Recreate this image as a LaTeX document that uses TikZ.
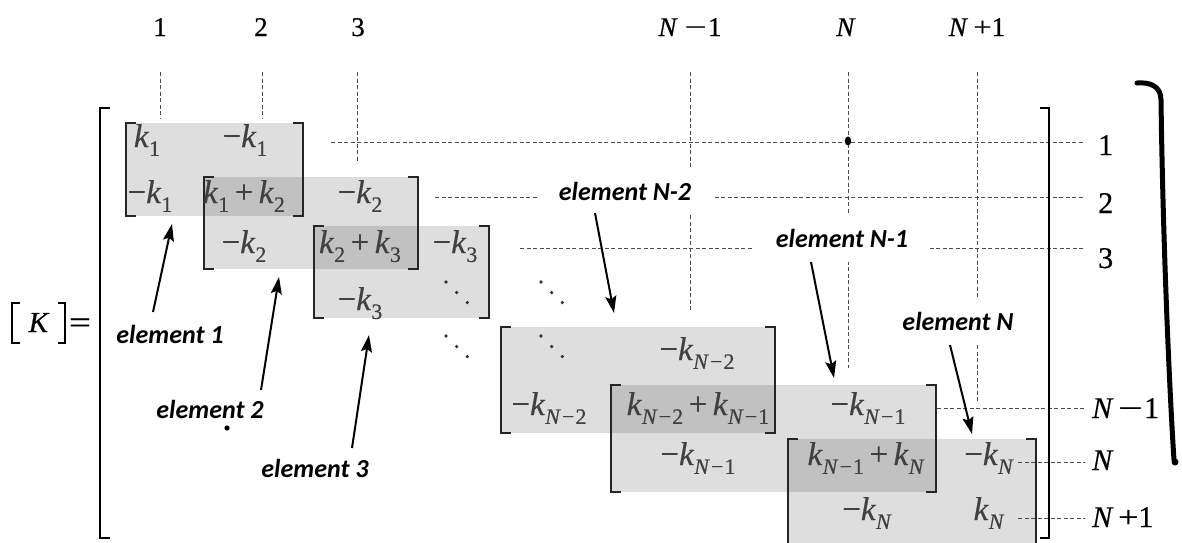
\documentclass[tikz,border=0pt]{standalone}
\usepackage{fontspec}
\usepackage{graphicx}
\setmainfont{Liberation Serif}[FakeBold=0.5]
\newfontfamily\labfont{Carlito}
\usetikzlibrary{arrows.meta}
\newcommand{\sbs}[1]{\raisebox{-0.27em}{\fontsize{22}{22}\selectfont #1}}
\newcommand{\kv}[1]{\textit{k}\sbs{#1}}
\newcommand{\Ns}[1]{\textit{N}\kern0.05em−\kern0.05em#1}
\newcommand{\wmin}{\scalebox{1.45}[1]{−}}
\newcommand{\wplus}{\scalebox{1.2}[1]{+}}
\begin{document}
\begin{tikzpicture}[x=1pt,y=-1pt,
  ent/.style={font=\fontsize{33}{33}\selectfont, text=black!75, inner sep=0pt, anchor=base},
  hdr/.style={font=\fontsize{27}{27}\selectfont, inner sep=0pt, anchor=base},
  rlab/.style={font=\fontsize{30}{30}\selectfont, inner sep=0pt, anchor=base west},
  elab/.style={font=\labfont\bfseries\itshape\fontsize{26}{26}\selectfont, anchor=base, fill=white, inner xsep=22pt, inner ysep=15pt},
  elabplain/.style={font=\labfont\bfseries\itshape\fontsize{26}{26}\selectfont, anchor=base, inner sep=0pt},
  dsh/.style={draw=black!70, line width=0.9pt, dash pattern=on 4pt off 2.5pt},
  shade/.style={fill=black, fill opacity=0.13},
  brk/.style={draw=black!85, line width=2pt},
  obrk/.style={draw=black, line width=1.8pt},
  arr/.style={draw=black, line width=2pt, -{Stealth[length=17pt,width=11pt,inset=3pt]}},
  ddot/.style={fill=black!80}
]
\useasboundingbox (0,0) rectangle (1182,542);

% ---------- element shaded boxes ----------
\fill[shade] (126,123) rectangle (303,216);
\fill[shade] (204,177) rectangle (418,269);
\fill[shade] (314,226) rectangle (489,318);
\fill[shade] (501,327) rectangle (775,433);
\fill[shade] (611,385) rectangle (936,492);
\fill[shade] (788,439) rectangle (1036,550);

% element brackets
\draw[brk] (136,123) -- (126,123) -- (126,216) -- (136,216);
\draw[brk] (293,123) -- (303,123) -- (303,216) -- (293,216);
\draw[brk] (214,177) -- (204,177) -- (204,269) -- (214,269);
\draw[brk] (408,177) -- (418,177) -- (418,269) -- (408,269);
\draw[brk] (324,226) -- (314,226) -- (314,318) -- (324,318);
\draw[brk] (479,226) -- (489,226) -- (489,318) -- (479,318);
\draw[brk] (511,327) -- (501,327) -- (501,433) -- (511,433);
\draw[brk] (765,327) -- (775,327) -- (775,433) -- (765,433);
\draw[brk] (621,385) -- (611,385) -- (611,492) -- (621,492);
\draw[brk] (926,385) -- (936,385) -- (936,492) -- (926,492);
\draw[brk] (798,439) -- (788,439) -- (788,550);
\draw[brk] (1026,439) -- (1036,439) -- (1036,550);

% ---------- dashed guide lines ----------
\draw[dsh] (160,72) -- (160,118);
\draw[dsh] (262,72) -- (262,118);
\draw[dsh] (357,72) -- (357,163);
\draw[dsh] (690,72) -- (690,312);
\draw[dsh] (848,72) -- (848,368);
\draw[dsh] (977,72) -- (977,403);
\draw[dsh] (331,142) -- (1085,142);
\draw[dsh] (435,197) -- (1085,197);
\draw[dsh] (520,248) -- (1085,248);
\draw[dsh] (937,408) -- (1085,408);
\draw[dsh] (1018,462) -- (1085,462);
\draw[dsh] (1018,518) -- (1085,518);

% dots
\fill (848,141) ellipse (3.2pt and 4.5pt);
\fill (227,428) circle (2.6pt);

% diagonal dots
\foreach \dx/\dy in {446/282, 541/282, 446/336, 541/336} {
  \fill[ddot] (\dx,\dy) circle (1.8pt);
  \fill[ddot] (\dx+10.7,\dy+10.5) circle (1.8pt);
  \fill[ddot] (\dx+21.3,\dy+20.5) circle (1.8pt);
}

% ---------- outer bracket ----------
\draw[obrk] (110,108) -- (100,108) -- (100,538) -- (110,538);
\draw[obrk] (1040,108) -- (1049,108) -- (1049,538) -- (1040,538);

% ---------- [K] = ----------
\draw[line width=1.1pt] (20,303) -- (12,303) -- (12,343) -- (20,343);
\draw[line width=1.1pt] (58,303) -- (65,303) -- (65,343) -- (58,343);
\node[font=\fontsize{29}{29}\selectfont, inner sep=0pt, anchor=base] (K) at (39,332) {\textit{K}};
\node[font=\fontsize{29}{29}\selectfont, inner sep=0pt, anchor=base] (eq) at (80,333) {\scalebox{1.35}[1.1]{=}};

% ---------- header labels ----------
\node[hdr] (c1) at (160,36) {1};
\node[hdr] (c2) at (261,36) {2};
\node[hdr] (c3) at (358,36) {3};
\node[hdr] (c4) at (690,36) {\textit{N}\hspace{0.25em}\wmin\hspace{0.05em}1};
\node[hdr] (c5) at (846,36) {\textit{N}};
\node[hdr] (c6) at (977,36) {\textit{N}\hspace{0.2em}\wplus1};

% ---------- right labels ----------
\node[rlab] (r1) at (1098,155) {1};
\node[rlab] (r2) at (1098,213) {2};
\node[rlab] (r3) at (1098,268) {3};
\node[rlab] (r4) at (1092,418) {\textit{N}\hspace{0.15em}\wmin\hspace{0.05em}1};
\node[rlab] (r5) at (1092,470) {\textit{N}};
\node[rlab] (r6) at (1092,527) {\textit{N}\hspace{0.15em}\wplus1};

% ---------- matrix entries ----------
\node[ent] (a11) at (147,147) {\kv{1}};
\node[ent] (a12) at (245,147) {−\kv{1}};
\node[ent] (a21) at (150,203) {−\kv{1}};
\node[ent] (a22) at (244,203) {\kv{1}\,+\,\kv{2}};
\node[ent] (a23) at (360,203) {−\kv{2}};
\node[ent] (a32) at (244,253) {−\kv{2}};
\node[ent] (a33) at (360,253) {\kv{2}\,+\,\kv{3}};
\node[ent] (a34) at (455,253) {−\kv{3}};
\node[ent] (a43) at (360,310) {−\kv{3}};
\node[ent] (b12) at (697,360) {−\kv{\Ns{2}}};
\node[ent] (b21) at (549,415) {−\kv{\Ns{2}}};
\node[ent] (b22) at (698,415) {\kv{\Ns{2}}\,+\,\kv{\Ns{1}}};
\node[ent] (b23) at (868,415) {−\kv{\Ns{1}}};
\node[ent] (b32) at (698,465) {−\kv{\Ns{1}}};
\node[ent] (b33) at (866,465) {\kv{\Ns{1}}\,+\,\kv{\textit{N}}};
\node[ent] (b34) at (989,465) {−\kv{\textit{N}}};
\node[ent] (b43) at (867,520) {−\kv{\textit{N}}};
\node[ent] (b44) at (989,520) {\kv{\textit{N}}};

% ---------- element labels ----------
\node[elabplain] (e1) at (170,343) {element 1};
\node[elabplain] (e2) at (210,418) {element 2};
\node[elabplain] (e3) at (315,477) {element 3};
\node[elab] (eN2) at (625,200) {element N-2};
\node[elab] (eN1) at (842,247) {element N-1};
\node[elab, inner xsep=8pt] (eN) at (958,330) {element N};

% ---------- arrows ----------
\coordinate (t1) at (153,312); \coordinate (h1) at (172,224);
\coordinate (t2) at (261,390); \coordinate (h2) at (279,277);
\coordinate (t3) at (352,448); \coordinate (h3) at (369,335);
\coordinate (t4) at (595,213); \coordinate (h4) at (614,313);
\coordinate (t5) at (811,262); \coordinate (h5) at (834,378);
\coordinate (t6) at (950,345); \coordinate (h6) at (972,434);
\draw[arr] (t1) -- (h1);
\draw[arr] (t2) -- (h2);
\draw[arr] (t3) -- (h3);
\draw[arr] (t4) -- (h4);
\draw[arr] (t5) -- (h5);
\draw[arr] (t6) -- (h6);

% ---------- hand-drawn brace ----------
\draw[line width=5pt, line cap=round] (1137,83) .. controls (1150,82) and (1161,86) .. (1161,100)
  .. controls (1163,250) and (1170,400) .. (1174,460);
\fill (1175,462) circle (3.5pt);
\end{tikzpicture}
\end{document}
